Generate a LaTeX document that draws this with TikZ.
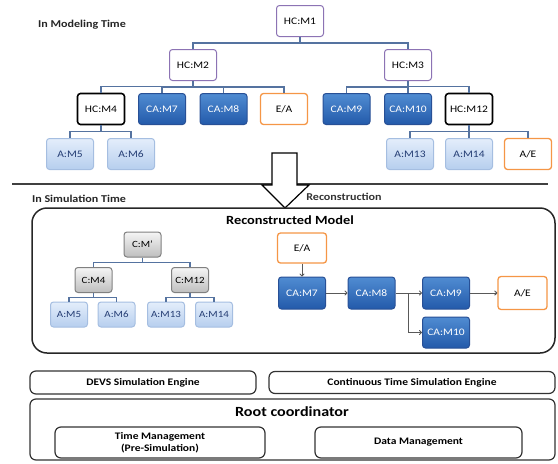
\documentclass[tikz,border=0pt]{standalone}
\usepackage{fontspec}
\setmainfont{Carlito}[FakeStretch=1.15]
\usetikzlibrary{arrows.meta,calc}
\definecolor{hcPurple}{RGB}{140,115,180}
\definecolor{caTop}{RGB}{80,140,210}
\definecolor{caBot}{RGB}{35,90,170}
\definecolor{caEdge}{RGB}{40,80,150}
\definecolor{amTop}{RGB}{228,238,251}
\definecolor{amBot}{RGB}{182,206,238}
\definecolor{amEdge}{RGB}{165,190,225}
\definecolor{amText}{RGB}{35,60,115}
\definecolor{evOrange}{RGB}{245,150,70}
\definecolor{linkBlue}{RGB}{85,115,160}
\definecolor{cmTop}{RGB}{245,245,245}
\definecolor{cmBot}{RGB}{190,190,190}

\begin{document}
\begin{tikzpicture}[x=1pt,y=-1pt,
    box/.style={rectangle, rounded corners=3pt, minimum width=47pt,
                minimum height=31pt, inner sep=0pt, line width=1pt,
                font=\fontsize{10}{11}\selectfont},
    hc/.style={box, draw=hcPurple, fill=white},
    hcbold/.style={box, draw=black, line width=1.6pt, fill=white},
    ca/.style={box, draw=caEdge, top color=caTop, bottom color=caBot, text=white},
    am/.style={box, draw=amEdge, top color=amTop, bottom color=amBot, text=amText},
    ev/.style={box, draw=evOrange, line width=1.3pt, fill=white},
    simbox/.style={box, minimum width=37pt, minimum height=25pt,
                   font=\fontsize{9.5}{10}\selectfont},
    cmbox/.style={simbox, draw=gray, top color=cmTop, bottom color=cmBot},
    albox/.style={simbox, draw=amEdge, top color=amTop, bottom color=amBot, text=amText},
    pane/.style={rectangle, rounded corners=6pt, draw=black!80, line width=1.2pt,
                 inner sep=0pt, align=center, font=\bfseries\fontsize{10}{12}\selectfont},
    heading/.style={font=\bfseries\fontsize{10.5}{12}\selectfont, text=black!85},
    link/.style={draw=linkBlue, line width=1.2pt},
    fork/.style={to path={(\tikztostart) |- ($(\tikztostart)!.5!(\tikztotarget)$) -| (\tikztotarget)}},
    flow/.style={draw=black!65, line width=0.9pt, -{To[length=3pt,width=5pt]}}
  ]
  \useasboundingbox (0,0) rectangle (558,464);

  % modeling time
  \node[heading] (modtime) at (82,25) {In Modeling Time};
  \node[hc] (m1)  at (300,21)   {HC:M1};
  \node[hc] (m2)  at (193,65)   {HC:M2};
  \node[hc] (m3)  at (408,65)   {HC:M3};
  \node[hcbold] (m4)  at (101,109) {HC:M4};
  \node[ca] (m7)  at (162,109)  {CA:M7};
  \node[ca] (m8)  at (223.5,109) {CA:M8};
  \node[ev] (ea)  at (284,109)  {E/A};
  \node[ca] (m9)  at (346.5,109) {CA:M9};
  \node[ca] (m10) at (408,109)  {CA:M10};
  \node[hcbold] (m12) at (469,109) {HC:M12};
  \node[am] (a5)  at (70,154)   {A:M5};
  \node[am] (a6)  at (131,154)  {A:M6};
  \node[am] (a13) at (410,154)  {A:M13};
  \node[am] (a14) at (469,154)  {A:M14};
  \node[ev] (ae)  at (528,154)  {A/E};

  \foreach \p/\c in {m1/m2, m1/m3, m2/m4, m2/m7, m2/m8, m2/ea,
                     m3/m9, m3/m10, m3/m12, m4/a5, m4/a6,
                     m12/a13, m12/a14, m12/ae}
    \draw[link] (\p.south) to[fork] (\c.north);

  \draw[line width=2pt, black!75] (12,184) -- (548,184);
  \draw[line width=1.2pt, fill=white] (272,153) -- (297,153) -- (297,185) -- (309,185)
    -- (285,208) -- (262,185) -- (272,185) -- cycle;
  \node[font=\bfseries\fontsize{10.5}{12}\selectfont, text=black!80] (recon) at (344,197) {Reconstruction};

  % simulation time
  \node[heading] (simtime) at (79,199) {In Simulation Time};
  \node[rectangle, rounded corners=15pt, draw=black!85, line width=1.5pt,
        minimum width=523pt, minimum height=145pt] (recmodel) at (293.5,280.5) {};
  \node[font=\bfseries\fontsize{12.5}{14}\selectfont] (rectitle) at (290,220) {Reconstructed Model};

  \node[cmbox] (cm)  at (142.5,244.5) {C:M'};
  \node[cmbox] (c4)  at (93.5,280)    {C:M4};
  \node[cmbox] (c12) at (190,280)     {C:M12};
  \node[albox] (l5)  at (69,314.5)    {A:M5};
  \node[albox] (l6)  at (116.5,314.5) {A:M6};
  \node[albox] (l13) at (166,314.5)   {A:M13};
  \node[albox] (l14) at (214,314.5)   {A:M14};
  \foreach \p/\c in {cm/c4, cm/c12, c4/l5, c4/l6, c12/l13, c12/l14}
    \draw[link] (\p.south) to[fork] (\c.north);

  \node[ev, minimum width=49pt, minimum height=30pt] (fea) at (302,248) {E/A};
  \node[ca, minimum height=32pt] (f7)  at (302,293)   {CA:M7};
  \node[ca, minimum height=32pt] (f8)  at (371.5,293) {CA:M8};
  \node[ca, minimum height=32pt] (f9)  at (446,293)   {CA:M9};
  \node[ca] (f10) at (446,332.5) {CA:M10};
  \node[ev, minimum width=49pt, minimum height=33pt] (fae) at (522.5,293) {A/E};
  \coordinate (split) at (408,293);

  \draw[flow] (fea) -- (f7);
  \draw[flow] (f7) -- (f8);
  \draw[flow] (f8) -- (f9);
  \draw[flow] (split) |- (f10);
  \draw[flow] (f9) -- (fae);

  % engines
  \node[pane, minimum width=226pt, minimum height=23pt] (devs) at (143,382.5) {DEVS Simulation Engine};
  \node[pane, minimum width=286pt, minimum height=22pt] (cont) at (412,382.5) {Continuous Time Simulation Engine};
  \node[pane, minimum width=525pt, minimum height=61pt] (root) at (292.5,429.5) {};
  \node[font=\bfseries\fontsize{14}{16}\selectfont] (roottitle) at (292,412) {Root coordinator};
  \node[pane, minimum width=210pt, minimum height=31pt] (timemgmt) at (160,442.5) {Time Management\\(Pre-Simulation)};
  \node[pane, minimum width=207pt, minimum height=31pt] (datamgmt) at (418.5,442.5) {Data Management};
\end{tikzpicture}
\end{document}
